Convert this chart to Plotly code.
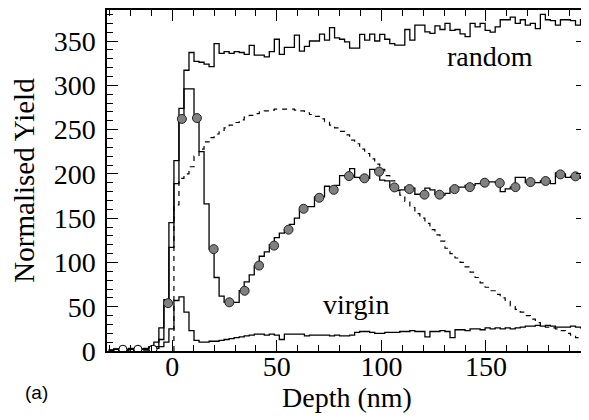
import numpy as np
import plotly.graph_objects as go

# depth channels (nm): lower edge of the first channel and channel width
first_edge = -30.4
channel_width = 2.4

random_yield = [1, 2, 1, 2, 3, 2, 2, 3,
                5, 10, 26, 58, 145, 215, 274,
                317, 337, 327, 326, 324, 321,
                347, 336, 338, 336, 338, 337, 335, 345, 334, 334, 332, 338, 352, 335,
                342.7, 342.7, 356.7, 338.6, 344, 350, 350, 357.8, 351, 365, 353.6, 352, 349,
                342, 342, 357.5, 351, 357.8, 350, 357.5, 352, 347, 345.4, 345.4, 363, 351,
                368, 368, 360.4, 358.6, 367,
                363, 370, 362, 363, 358, 355, 370, 366, 370, 362, 360, 366, 374, 374, 377,
                370, 374, 368, 370, 364, 380, 374, 373, 368, 374, 374, 373, 368, 374]

implanted_yield = [1, 2, 1, 1, 2, 1, 2, 2,
                   4, 5, 13, 54, 117, 189, 262,
                   296, 296, 263, 225, 166, 115,
                   83, 62, 55, 55, 55, 68, 78, 86, 96, 107, 112, 120, 128, 133,
                   137, 143, 150, 160, 163, 163, 174, 174, 186, 183, 187, 198, 198, 206, 196,
                   195, 195, 205, 203, 193, 192, 185, 181, 182, 185, 184, 177, 177, 184, 182, 177,
                   176, 178, 184, 185, 185, 187, 187, 189, 189, 191, 191, 190, 180, 183, 185,
                   196, 196, 190, 190, 190, 192, 192, 189, 201, 200, 196, 197, 197, 195]

virgin_yield = [1, 2, 1, 1, 2, 1, 2, 1, 2, 3, 5,
                10, 25, 57, 61, 44, 23,
                12, 10, 10, 11, 11, 12, 13, 14, 15, 16, 17, 18, 19, 19, 18, 19, 18, 13, 19,
                19, 19, 19, 17, 18, 18, 18, 18, 17, 18, 17, 17, 18, 21, 22, 22, 21, 20, 20,
                21, 21, 21, 22, 22, 23, 22, 22, 16, 22, 22, 23, 22, 15, 24, 24, 23, 25, 25,
                24, 26, 25, 26, 25, 26, 25, 26, 27, 28, 28, 29, 28, 29, 28, 27, 27, 27, 28,
                27, 26]

# damage profile, starting at channel 13
profile_start = 13
profile_yield = [165, 195, 200, 208, 220, 228, 236, 241, 245, 249, 252, 255, 258, 261,
                 264, 266, 268, 270, 271, 272, 273, 273, 273, 273, 272, 271, 269, 267, 265,
                 262, 259, 255, 252, 248, 244, 238, 234, 228, 223, 217, 211, 205, 198, 192,
                 184, 176, 169, 162, 155, 150, 144, 137, 131, 124, 116, 110, 105, 100, 95,
                 89, 83, 77, 72, 68, 64, 60, 56, 51, 47, 44, 40, 36, 32, 29, 27, 26, 25,
                 23, 20, 18, 15, 13]

circle_depth = [-23.6, -16.4, -9.2, -2.0, 4.6, 11.8, 19.8, 27.3, 34.6, 41.5, 48.7, 55.6,
                62.8, 70.3, 77.2, 84.5, 91.9, 98.9, 106.2, 113.4, 120.6, 127.8, 135.0,
                142.3, 149.4, 156.6, 164.1, 171.3, 178.5, 185.6, 192.8]
circle_yield = [2, 2, 2, 54, 262, 263, 115, 55, 68, 96.5, 119, 137, 160.6, 173, 182,
                197.5, 195, 202.5, 184.7, 182.8, 176.5, 176.5, 182.8, 185, 190, 189.6,
                185, 190.7, 191.9, 199.4, 197.2]

edges = first_edge + channel_width * np.arange(len(random_yield) + 1)

SERIF = "Liberation Serif, Times New Roman, serif"


def steps(x_edges, vals):
    return list(x_edges), list(vals) + [vals[-1]]


fig = go.Figure()
for vals in [random_yield, implanted_yield, virgin_yield]:
    xs, ys = steps(edges, vals)
    fig.add_trace(go.Scatter(x=xs, y=ys, mode="lines", line_shape="hv",
                             line=dict(color="black", width=1.3), showlegend=False))

pe = edges[profile_start:]
xs, ys = steps(pe, profile_yield)
fig.add_trace(go.Scatter(x=[pe[0]] + xs, y=[0] + ys, mode="lines", line_shape="hv",
                         line=dict(color="black", width=1.2, dash="5px,5px"),
                         showlegend=False))

fig.add_trace(go.Scatter(x=circle_depth[:3], y=circle_yield[:3], mode="markers",
                         marker=dict(size=8, color="white",
                                     line=dict(color="black", width=1)),
                         showlegend=False))
fig.add_trace(go.Scatter(x=circle_depth[3:], y=circle_yield[3:], mode="markers",
                         marker=dict(size=9, color="#808080",
                                     line=dict(color="#222222", width=1)),
                         showlegend=False))

fig.add_annotation(x=152, y=332, text="random", showarrow=False,
                   font=dict(family=SERIF, size=28, color="black"))
fig.add_annotation(x=88, y=53, text="virgin", showarrow=False,
                   font=dict(family=SERIF, size=28, color="black"))
fig.add_annotation(xref="paper", yref="paper", x=-0.175, y=-0.158, text="(a)",
                   showarrow=False,
                   font=dict(family="Liberation Sans, Arial, sans-serif", size=19,
                             color="black"))

axis_common = dict(showline=True, linecolor="black", linewidth=1.5, mirror="ticks",
                   ticks="inside", ticklen=11, tickwidth=1.2, tickcolor="black",
                   showgrid=False, zeroline=False, automargin=False,
                   minor=dict(ticks="inside", ticklen=6, tickwidth=1.2, tickcolor="black",
                              dtick=10),
                   tickfont=dict(family=SERIF, size=28, color="black"))

fig.update_xaxes(range=[-31.2, 198.3], tick0=0, dtick=50, ticklabelstandoff=-10,
                 title=dict(text="Depth (nm)", font=dict(family=SERIF, size=28,
                                                         color="black"), standoff=0),
                 **axis_common)
fig.update_yaxes(range=[0, 385], tick0=0, dtick=50, ticklabelstandoff=4,
                 title=dict(text="Normalised Yield", font=dict(family=SERIF, size=29,
                                                               color="black"), standoff=12),
                 **axis_common)

# the page body adds an 8 px margin, so the figure is 8 px smaller than the window
fig.update_layout(width=581, height=412, plot_bgcolor="white", paper_bgcolor="white",
                  margin=dict(l=99, r=2, t=2, b=69))

fig.write_html("out.html")
